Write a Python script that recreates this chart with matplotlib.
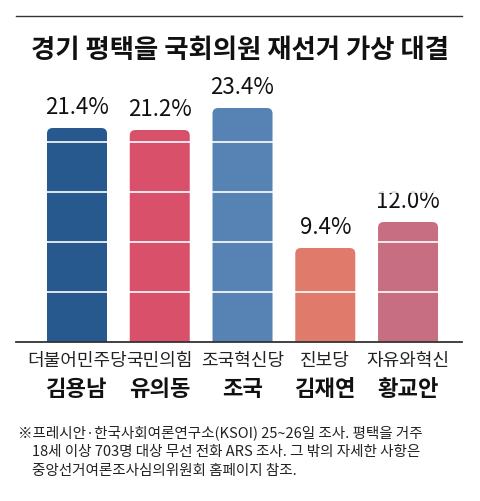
import matplotlib
matplotlib.use("Agg")
import matplotlib.pyplot as plt
from matplotlib.patches import FancyBboxPatch
from matplotlib.lines import Line2D

plt.rcParams['font.family'] = ['Noto Sans CJK KR', 'DejaVu Sans']

parties = ["더불어민주당", "국민의힘", "조국혁신당", "진보당", "자유와혁신"]
candidates = ["김용남", "유의동", "조국", "김재연", "황교안"]
values = [21.4, 21.2, 23.4, 9.4, 12.0]
colors = ["#27598f", "#d9506a", "#5683b4", "#e07a6a", "#c86e82"]

W, H = 480, 501
fig = plt.figure(figsize=(4.8, 5.01), dpi=100)
ax = fig.add_axes([16/W, (H-342)/H, 446/W, 250/H])
ax.set_xlim(-0.737, 4.652)
ax.set_ylim(0, 25.0)
ax.axis('off')

bw = 0.725
for i, v in enumerate(values):
    p = FancyBboxPatch((i - bw/2, -2), bw, v + 2,
                       boxstyle="round,pad=0,rounding_size=0.07",
                       mutation_aspect=8.0, fc=colors[i], ec='none', clip_on=True)
    ax.add_patch(p)
    ax.text(i, v + 0.9, f"{v:.1f}%", ha='center', va='bottom', fontsize=16, color='#111')
for g in [5, 10, 15, 20]:
    ax.axhline(g, color='white', lw=1.2, zorder=3)
ax.axhline(0, color='#333', lw=1.3, zorder=4, clip_on=False)
for i in range(len(values)):
    ax.text(i, -1.0, parties[i], ha='center', va='top', fontsize=13, color='#222')
    ax.text(i, -3.6, candidates[i], ha='center', va='top', fontsize=16, fontweight='bold', color='#111')

fig.add_artist(Line2D([16/W, 462/W], [1-16/H, 1-16/H], color='#333', lw=1.0))
fig.text(0.5, 1-50/H, "경기 평택을 국회의원 재선거 가상 대결", ha='center', va='center',
         fontsize=19, fontweight='bold', color='#111')
notes = ["※프레시안·한국사회여론연구소(KSOI) 25~26일 조사. 평택을 거주",
         "18세 이상 703명 대상 무선 전화 ARS 조사. 그 밖의 자세한 사항은",
         "중앙선거여론조사심의위원회 홈페이지 참조."]
xs = [18, 32, 32]
ys = [433, 452, 471]
for t, x, y in zip(notes, xs, ys):
    fig.text(x/W, 1-y/H, t, ha='left', va='center', fontsize=10.5, color='#222')

fig.savefig("out.png", dpi=100, facecolor='white')
